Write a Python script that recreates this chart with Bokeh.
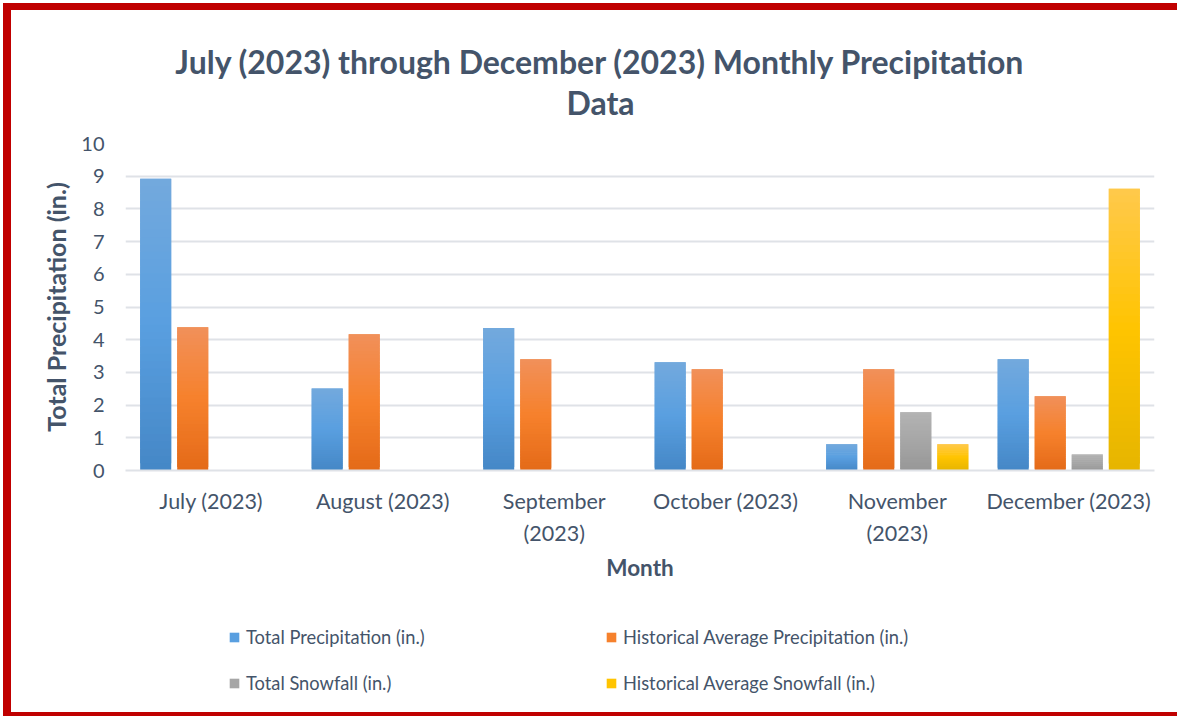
import numpy as np
from bokeh.plotting import figure
from bokeh.layouts import column
from bokeh.models import ColumnDataSource, Legend, LegendItem, FixedTicker, Range1d, Label
from bokeh.embed import file_html
from bokeh.resources import INLINE

# ---------------- data ----------------
months = ["July (2023)", "August (2023)", "September\n(2023)",
          "October (2023)", "November\n(2023)", "December (2023)"]
total_precip = [8.92, 2.51, 4.36, 3.31, 0.80, 3.40]
hist_precip = [4.38, 4.17, 3.40, 3.10, 3.10, 2.27]
total_snow = [0.0, 0.0, 0.0, 0.0, 1.78, 0.49]
hist_snow = [0.0, 0.0, 0.0, 0.0, 0.80, 8.62]
series_names = ["Total Precipitation (in.)", "Historical Average Precipitation (in.)",
                "Total Snowfall (in.)", "Historical Average Snowfall (in.)"]
y_ticks = list(range(0, 11))
title_lines = ["July (2023) through December (2023) Monthly Precipitation", "Data"]

# ---------------- style ----------------
TEXT = "#44546a"
FONT = "Lato"
GRID = "#dfe2e7"
RED = "#c00000"
stops = [
    ("#4587c6", "#599fe0", "#73a9dd"),
    ("#e46a18", "#f6812c", "#f1905a"),
    ("#979797", "#a6a6a6", "#b3b3b3"),
    ("#e6b500", "#ffc400", "#ffc94c"),
]
offsets = [-0.324, -0.108, 0.108, 0.324]
BAR_W = 0.181
N = 40
W = 1177
BL, BR = 125, 23


def h2r(h):
    return np.array([int(h[i:i + 2], 16) for i in (1, 3, 5)], dtype=float)


def grad(st, t):
    if t <= 0.5:
        a, b, u = st[0], st[1], t / 0.5
    else:
        a, b, u = st[1], st[2], (t - 0.5) / 0.5
    c = h2r(a) * (1 - u) + h2r(b) * u
    return "#%02x%02x%02x" % tuple(int(round(v)) for v in c)


def strip(height, yr):
    f = figure(width=W, height=height, output_backend="svg", toolbar_location=None,
               x_range=Range1d(BL, W - BR), y_range=Range1d(0, yr),
               x_axis_location=None, y_axis_location=None,
               min_border_left=BL, min_border_right=BR, min_border_top=0,
               min_border_bottom=0, outline_line_color=None,
               border_fill_color=None, background_fill_color=None)
    f.grid.visible = False
    return f


# ---------------- title strip ----------------
t = strip(125, 125)
for txt, yy in zip(title_lines, [64, 23]):
    t.add_layout(Label(x=600, y=yy, text=txt, text_align="center",
                       text_baseline="middle", text_font=FONT,
                       text_font_style="bold", text_font_size="32px",
                       text_color=TEXT))

# ---------------- main chart ----------------
p = figure(width=W, height=475, output_backend="svg", toolbar_location=None,
           x_range=Range1d(-0.5, 5.5), y_range=Range1d(0, 10),
           min_border_left=BL, min_border_right=BR, min_border_top=18,
           min_border_bottom=130, outline_line_color=None,
           border_fill_color=None, background_fill_color="white")

all_series = [total_precip, hist_precip, total_snow, hist_snow]
for j, vals in enumerate(all_series):
    xs, bots, tops, cols = [], [], [], []
    for i, v in enumerate(vals):
        if v <= 0:
            continue
        for k in range(N):
            xs.append(i + offsets[j])
            bots.append(v * k / N)
            tops.append(v * min(k + 2, N) / N)
            cols.append(grad(stops[j], (k + 0.5) / N))
    src = ColumnDataSource(dict(x=xs, bottom=bots, top=tops, color=cols))
    p.vbar(x="x", bottom="bottom", top="top", width=BAR_W, source=src,
           fill_color="color", line_color=None)

p.xgrid.grid_line_color = None
p.ygrid.grid_line_color = GRID
p.ygrid.grid_line_width = 2
p.ygrid.ticker = FixedTicker(ticks=y_ticks)

p.yaxis.ticker = FixedTicker(ticks=y_ticks)
p.yaxis.axis_line_color = None
p.yaxis.major_tick_line_color = None
p.yaxis.major_tick_out = 0
p.yaxis.minor_tick_line_color = None
p.yaxis.major_label_standoff = 21
p.yaxis.major_label_text_font = FONT
p.yaxis.major_label_text_font_size = "20px"
p.yaxis.major_label_text_color = TEXT
p.yaxis.axis_label = "Total Precipitation (in.)"
p.yaxis.axis_label_text_font = FONT
p.yaxis.axis_label_text_font_style = "bold"
p.yaxis.axis_label_text_font_size = "25px"
p.yaxis.axis_label_text_color = TEXT
p.yaxis.axis_label_standoff = 7

p.xaxis.ticker = FixedTicker(ticks=list(range(len(months))))
p.xaxis.major_label_overrides = {i: m for i, m in enumerate(months)}
p.xaxis.axis_line_color = GRID
p.xaxis.axis_line_width = 2
p.xaxis.major_tick_line_color = None
p.xaxis.major_tick_out = 0
p.xaxis.minor_tick_line_color = None
p.xaxis.major_label_standoff = 17
p.xaxis.major_label_text_font = FONT
p.xaxis.major_label_text_font_size = "21.5px"
p.xaxis.major_label_text_color = TEXT
p.xaxis.major_label_text_line_height = 1.25
p.xaxis.axis_label = "Month"
p.xaxis.axis_label_text_font = FONT
p.xaxis.axis_label_text_font_style = "bold"
p.xaxis.axis_label_text_font_size = "22.5px"
p.xaxis.axis_label_text_color = TEXT
p.xaxis.axis_label_standoff = 5

# ---------------- legend strip ----------------
q = strip(116, 1)
items = []
for j, name in enumerate(series_names):
    # zero-size proxy glyph: only its legend swatch is visible
    r = q.vbar(x=[600], bottom=[0.5], top=[0.5], width=0, fill_color=stops[j][1],
               line_color=None)
    items.append(LegendItem(label=name, renderers=[r]))
legend = Legend(items=items, location=(103, 21), orientation="horizontal", ncols=2,
                glyph_width=12, glyph_height=12, label_standoff=6, label_width=337,
                label_height=24, spacing=22, padding=0, margin=0,
                border_line_color=None, background_fill_alpha=0,
                label_text_font=FONT, label_text_font_size="18.3px",
                label_text_color=TEXT)
q.add_layout(legend, "center")

stripe = "linear-gradient(%s,%s)" % (RED, RED)
layout = column(t, p, q, spacing=0)
layout.styles = {"background": (
    f"{stripe} 3px 3px / 8px 720px no-repeat, "
    f"{stripe} 3px 3px / 1180px 7px no-repeat, "
    f"{stripe} 3px 712px / 1180px 8px no-repeat, white")}

open("out.html", "w").write(file_html(layout, INLINE))
